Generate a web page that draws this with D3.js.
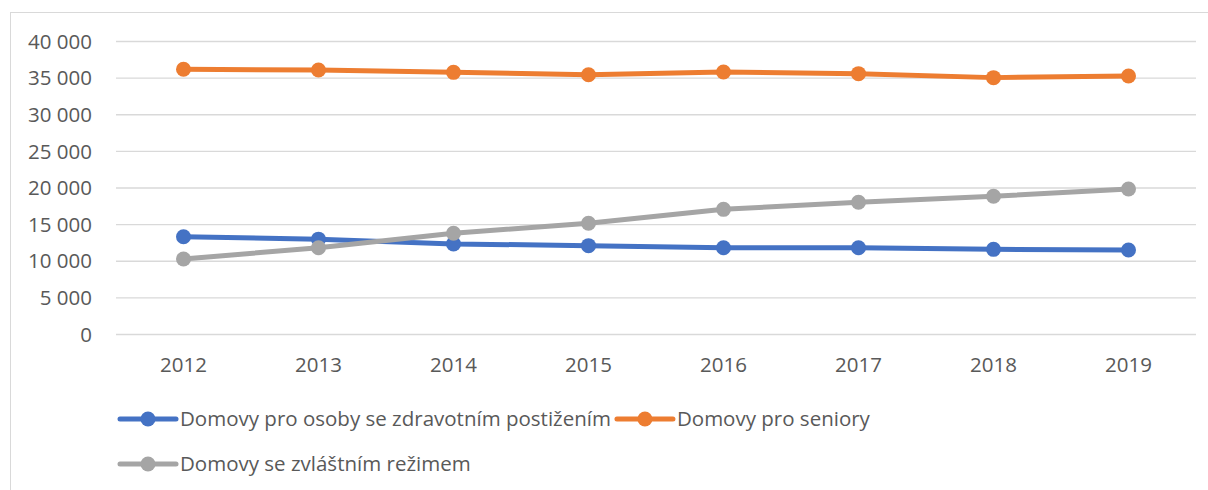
<!DOCTYPE html>
<html>
<head>
<meta charset="utf-8">
<script src="https://cdn.jsdelivr.net/npm/d3@7"></script>
<style>
  body { margin: 0; background: #fff; }
  text { font-family: "Open Sans", sans-serif; fill: #595959; }
</style>
</head>
<body>
<div id="chart"></div>
<script>
const years = ["2012", "2013", "2014", "2015", "2016", "2017", "2018", "2019"];
const zdravotni = [13280, 12950, 12300, 12060, 11780, 11780, 11560, 11470];
const seniori = [36140, 36040, 35720, 35400, 35770, 35540, 35000, 35220];
const zvlastni = [10240, 11780, 13750, 15110, 17020, 17980, 18800, 19800];
const yTicks = [0, 5000, 10000, 15000, 20000, 25000, 30000, 35000, 40000];
const seriesNames = [
  "Domovy pro osoby se zdravotním postižením",
  "Domovy pro seniory",
  "Domovy se zvláštním režimem"
];
const colors = ["#4472C4", "#ED7D31", "#A5A5A5"];

const series = [zdravotni, seniori, zvlastni].map((v, i) => ({
  name: seriesNames[i], color: colors[i], values: v
}));

const width = 1208;
const height = 490;

const svg = d3.select('#chart')
  .append('svg')
  .attr('width', width)
  .attr('height', height);

// outer chart frame (cut off on the right and bottom)
svg.append('rect')
  .attr('x', 10.5)
  .attr('y', 12.5)
  .attr('width', width)
  .attr('height', height)
  .attr('fill', 'none')
  .attr('stroke', '#d9d9d9');

const x = d3.scaleBand()
  .domain(years)
  .range([116, 1196]);

const y = d3.scaleLinear()
  .domain([0, 40000])
  .range([334, 41]);

const fmt = d3.formatLocale({decimal: ",", thousands: " ", grouping: [3], currency: ["", ""]}).format(",d");

// gridlines + y labels
const yAxis = d3.axisLeft(y)
  .tickValues(yTicks)
  .tickFormat(fmt)
  .tickSize(-(x.range()[1] - x.range()[0]))
  .tickPadding(24);

const gy = svg.append('g')
  .attr('transform', `translate(${x.range()[0]},0)`)
  .call(yAxis);
gy.select('.domain').remove();
gy.selectAll('line').attr('stroke', '#d9d9d9').attr('stroke-width', 1.3);
gy.selectAll('text')
  .style('font-size', '20.5px')
  .attr('fill', '#595959')
  .attr('dy', '0.35em');

// x labels
const xAxis = d3.axisBottom(x).tickSize(0).tickPadding(20);
const gx = svg.append('g')
  .attr('transform', `translate(0,${y(0)})`)
  .call(xAxis);
gx.select('.domain').remove();
gx.selectAll('text')
  .style('font-size', '20.5px')
  .attr('fill', '#595959')
  .attr('y', 31)
  .attr('dy', '0.35em');

const cx = d => x(d) + x.bandwidth() / 2;

const line = d3.line()
  .x((d, i) => cx(years[i]))
  .y(d => y(d));

const sg = svg.selectAll('.series')
  .data(series)
  .enter()
  .append('g')
  .attr('class', 'series');

sg.append('path')
  .attr('d', d => line(d.values))
  .attr('fill', 'none')
  .attr('stroke', d => d.color)
  .attr('stroke-width', 5)
  .attr('stroke-linejoin', 'round')
  .attr('stroke-linecap', 'round');

sg.each(function(s) {
  d3.select(this).selectAll('circle')
    .data(s.values)
    .enter()
    .append('circle')
    .attr('cx', (d, i) => cx(years[i]))
    .attr('cy', d => y(d))
    .attr('r', 7.5)
    .attr('fill', s.color);
});

// legend
function legendItem(s, lx, ly) {
  const g = svg.append('g').attr('transform', `translate(${lx},${ly})`);
  g.append('line')
    .attr('x1', 0).attr('x2', 56)
    .attr('stroke', s.color)
    .attr('stroke-width', 5)
    .attr('stroke-linecap', 'round');
  g.append('circle').attr('cx', 28).attr('r', 7.5).attr('fill', s.color);
  const t = g.append('text')
    .attr('x', 60)
    .attr('dy', '0.35em')
    .style('font-size', '20.5px')
    .text(s.name);
  return t.node().getComputedTextLength();
}

const w1 = legendItem(series[0], 120, 419);
legendItem(series[1], 120 + 60 + w1 + 6, 419);
legendItem(series[2], 120, 464);
</script>
</body>
</html>
